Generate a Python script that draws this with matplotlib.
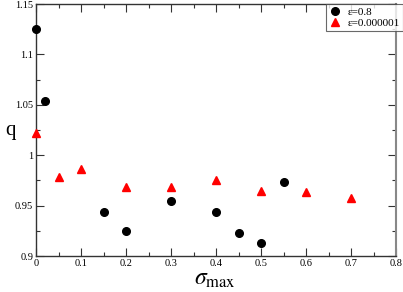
import matplotlib
matplotlib.use("Agg")
import matplotlib.pyplot as plt
from matplotlib.ticker import MultipleLocator

plt.rcParams['font.family'] = ['Liberation Serif', 'DejaVu Serif']
plt.rcParams['mathtext.fontset'] = 'stix'

sigma_a = [0.0, 0.02, 0.15, 0.2, 0.3, 0.4, 0.45, 0.5, 0.55]
q_a = [1.125, 1.054, 0.944, 0.925, 0.955, 0.944, 0.923, 0.913, 0.973]
sigma_b = [0.0, 0.05, 0.1, 0.2, 0.3, 0.4, 0.5, 0.6, 0.7]
q_b = [1.022, 0.978, 0.986, 0.968, 0.968, 0.975, 0.964, 0.963, 0.958]
xticks = [0, 0.1, 0.2, 0.3, 0.4, 0.5, 0.6, 0.7, 0.8]
xtick_labels = ['0', '0.1', '0.2', '0.3', '0.4', '0.5', '0.6', '0.7', '0.8']
yticks = [0.9, 0.95, 1.0, 1.05, 1.1, 1.15]
ytick_labels = ['0.9', '0.95', '1', '1.05', '1.1', '1.15']

fig = plt.figure(figsize=(4.03, 2.92), dpi=100)
ax = fig.add_axes([36/403, 1-256/292, 360/403, 252/292])

ax.plot(sigma_a, q_a, 'o', color='black', markersize=5.5, label='ε=0.8', clip_on=False, zorder=3)
ax.plot(sigma_b, q_b, '^', color='red', markersize=5.8, label='ε=0.000001', clip_on=False, zorder=3)

ax.set_xlim(0, 0.8)
ax.set_ylim(0.9, 1.15)
ax.set_xticks(xticks)
ax.set_xticklabels(xtick_labels)
ax.set_yticks(yticks)
ax.set_yticklabels(ytick_labels)
ax.xaxis.set_minor_locator(MultipleLocator(0.05))
ax.yaxis.set_minor_locator(MultipleLocator(0.025))
ax.tick_params(which='both', direction='in', top=True, right=True, labelsize=7.5, width=0.8, color='#333333')
ax.tick_params(which='major', length=6, pad=2)
ax.tick_params(which='minor', length=3)
for s in ax.spines.values():
    s.set_linewidth(1.0)
    s.set_color('#333333')
ax.spines['right'].set_color('#888888')
ax.spines['right'].set_linewidth(1.5)

fig.text(10/403, 1-131/292, 'q', fontsize=15, ha='center', va='center')
fig.text(215/403, 1-280/292, r'$\sigma_{\mathrm{max}}$', fontsize=17, ha='center', va='center')

leg = ax.legend(loc='upper right', bbox_to_anchor=(403/403, 1-4/292), bbox_transform=fig.transFigure,
                fontsize=8, frameon=True, fancybox=False, borderpad=0.3, labelspacing=0.1,
                handlelength=1.0, handletextpad=0.6, borderaxespad=0, markerscale=1.0)
leg.get_frame().set_edgecolor('#444444')
leg.get_frame().set_linewidth(0.8)

fig.savefig('out.png', dpi=100)
